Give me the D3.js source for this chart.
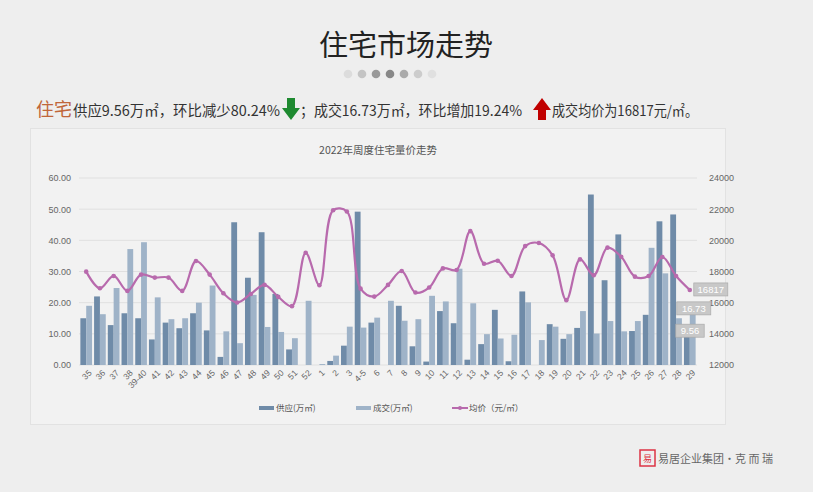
<!DOCTYPE html>
<html><head><meta charset="utf-8">
<script src="https://cdn.jsdelivr.net/npm/d3@7/dist/d3.min.js"></script>
<style>body{margin:0;background:#eeeeee;font-family:"Noto Sans CJK SC","Noto Sans",sans-serif}</style>
</head><body><svg id="c" width="813" height="492"></svg>
<script>
const weeks=["35","36","37","38","39-40","41","42","43","44","45","46","47","48","49","50","51","52","1","2","3","4-5","6","7","8","9","10","11","12","13","14","15","16","17","18","19","20","21","22","23","24","25","26","27","28","29"];
const supply=[15,22,12.8,16.6,15,8.2,13.6,11.8,16.6,11.1,2.6,45.8,28,42.6,22.8,5,0,0,1.3,6.2,49.2,13.6,0,19,6,1.1,17.3,13.4,1.7,6.7,17.7,1.2,23.6,0,13.1,8.4,11.9,54.7,27.2,41.9,10.9,16.1,46.1,48.3,9.56];
const deal=[19,16.3,24.7,37.2,39.4,21.7,14.7,15,20,25.5,10.8,7,22.5,12.2,10.6,8.6,20.6,0.3,3,12.3,12,15.2,20.6,14.2,14.7,22.2,20.4,30.9,19.8,9.9,8.5,9.7,20.1,8,12.3,9.9,17.3,10.1,14.1,10.8,14.1,37.6,29.4,15,16.73];
const price=[17990,16925,17715,16755,17800,17610,17610,16755,18670,17800,16600,16010,16560,17140,16370,15775,19200,17120,21935,21850,16900,16390,17140,18030,16650,16970,18200,18100,20590,18500,18690,17715,19630,19825,19035,16160,18780,17760,19530,18950,17670,17715,18930,17715,16817];
const leftTicks=[0,10,20,30,40,50,60], rightTicks=[12000,14000,16000,18000,20000,22000,24000];
const svg=d3.select("#c");
svg.append("text").attr("x",406).attr("y",56).attr("text-anchor","middle").attr("font-size",29).attr("fill","#222").text("住宅市场走势");
const dc=["#dcdcdc","#c4c4c4","#999","#888","#aaa","#ccc","#e0e0e0"];
dc.forEach((c,i)=>svg.append("circle").attr("cx",348+i*14).attr("cy",74).attr("r",4.3).attr("fill",c));
svg.append("text").attr("x",36).attr("y",116).attr("font-size",18).attr("fill","#c0663a").attr("textLength",36).text("住宅");
[["供应9.56万㎡，环比减少80.24%",73,207],["；成交16.73万㎡，环比增加19.24%",300,222],["成交均价为16817元/㎡。",552,146]].forEach(([t,x0,w])=>
 svg.append("text").attr("x",x0).attr("y",116).attr("font-size",14.5).attr("fill","#333").attr("textLength",w).attr("lengthAdjust","spacingAndGlyphs").text(t));
svg.append("path").attr("d","M287,98h8v10h5l-9,12l-9,-12h5z").attr("fill","#1e8a30");
svg.append("path").attr("d","M538,120h8v-10h5l-9,-12l-9,12h5z").attr("fill","#c00000");
svg.append("rect").attr("x",30.5).attr("y",128.5).attr("width",695).attr("height",296).attr("fill","#f2f2f2").attr("stroke","#e2e2e2");
svg.append("text").attr("x",378).attr("y",154).attr("text-anchor","middle").attr("font-size",10.5).attr("fill","#555").text("2022年周度住宅量价走势");
const x=d3.scaleBand().domain(weeks).range([79,697]).paddingInner(0.15).paddingOuter(0.1);
const yL=d3.scaleLinear().domain([0,60]).range([365,178]);
const yR=d3.scaleLinear().domain([12000,24000]).range([365,178]);
leftTicks.forEach(t=>svg.append("line").attr("x1",79).attr("x2",697).attr("y1",yL(t)).attr("y2",yL(t)).attr("stroke","#e0e0e0"));
const la=svg.append("g").attr("transform","translate(79,0)").call(d3.axisLeft(yL).tickValues(leftTicks).tickFormat(d3.format(".2f")).tickSize(0).tickPadding(8));
const ra=svg.append("g").attr("transform","translate(697,0)").call(d3.axisRight(yR).tickValues(rightTicks).tickSize(0).tickPadding(12).tickFormat(d=>d));
[la,ra].forEach(a=>{a.select(".domain").remove();a.selectAll("text").attr("font-size",9).attr("fill","#666").attr("font-family","Liberation Sans, sans-serif");});
const bw=x.bandwidth()/2;
svg.selectAll(".s").data(weeks).enter().append("rect").attr("x",d=>x(d)).attr("width",bw).attr("y",(d,i)=>yL(supply[i])).attr("height",(d,i)=>365-yL(supply[i])).attr("fill","#6f8ba8");
svg.selectAll(".d").data(weeks).enter().append("rect").attr("x",d=>x(d)+bw).attr("width",bw).attr("y",(d,i)=>yL(deal[i])).attr("height",(d,i)=>365-yL(deal[i])).attr("fill","#9fb3c8");
const cx=d=>x(d)+x.bandwidth()/2;
const line=d3.line().x((d,i)=>cx(weeks[i])).y(d=>yR(d)).curve(d3.curveCatmullRom.alpha(0.5));
svg.append("path").attr("d",line(price)).attr("fill","none").attr("stroke","#b86aad").attr("stroke-width",2.2);
svg.selectAll(".p").data(price).enter().append("circle").attr("cx",(d,i)=>cx(weeks[i])).attr("cy",d=>yR(d)).attr("r",2.3).attr("fill","#b86aad");
const xa=svg.append("g").attr("transform","translate(0,365)").call(d3.axisBottom(x).tickSize(0).tickPadding(6));
xa.select(".domain").remove();
xa.selectAll("text").attr("font-size",8.5).attr("fill","#666").attr("font-family","Liberation Sans, sans-serif").attr("text-anchor","end").attr("transform","rotate(-45)").attr("dx","-0.2em").attr("dy","0.5em");
const n=weeks.length-1, lx=cx(weeks[n]);
[[lx+4,yR(price[n])-7,"16817"],[lx-13,yL(deal[n])-11,"16.73"],[lx-14,yL(supply[n])-11,"9.56"]].forEach(([bx,by,t])=>{
 const w=t.length*5.6+6;
 svg.append("rect").attr("x",bx).attr("y",by).attr("width",w).attr("height",13).attr("fill","#c8c8c8").attr("stroke","#aaa").attr("stroke-width",0.7);
 svg.append("text").attr("x",bx+w/2).attr("y",by+10).attr("text-anchor","middle").attr("font-size",9.5).attr("fill","#fff").attr("font-family","Liberation Sans, sans-serif").text(t);
});
const leg=[["供应(万㎡)","#6f8ba8","bar",259],["成交(万㎡)","#9fb3c8","bar",356],["均价（元/㎡）","#b86aad","line",452]];
leg.forEach(([t,c,k,lx0])=>{
 if(k=="bar")svg.append("rect").attr("x",lx0).attr("y",406).attr("width",15).attr("height",4).attr("fill",c);
 else{svg.append("line").attr("x1",lx0).attr("x2",lx0+16).attr("y1",408).attr("y2",408).attr("stroke",c).attr("stroke-width",2);svg.append("circle").attr("cx",lx0+8).attr("cy",408).attr("r",2).attr("fill",c);}
 svg.append("text").attr("x",lx0+17).attr("y",411).attr("font-size",8.5).attr("fill","#555").text(t);
});
svg.append("rect").attr("x",640).attr("y",450).attr("width",15).attr("height",16).attr("fill","none").attr("stroke","#d34").attr("stroke-width",1.5);
svg.append("text").attr("x",647.5).attr("y",462).attr("text-anchor","middle").attr("font-size",9).attr("fill","#d34").text("易");
svg.append("text").attr("x",658).attr("y",463).attr("font-size",11).attr("fill","#666").text("易居企业集团·克 而 瑞");
</script></body></html>
